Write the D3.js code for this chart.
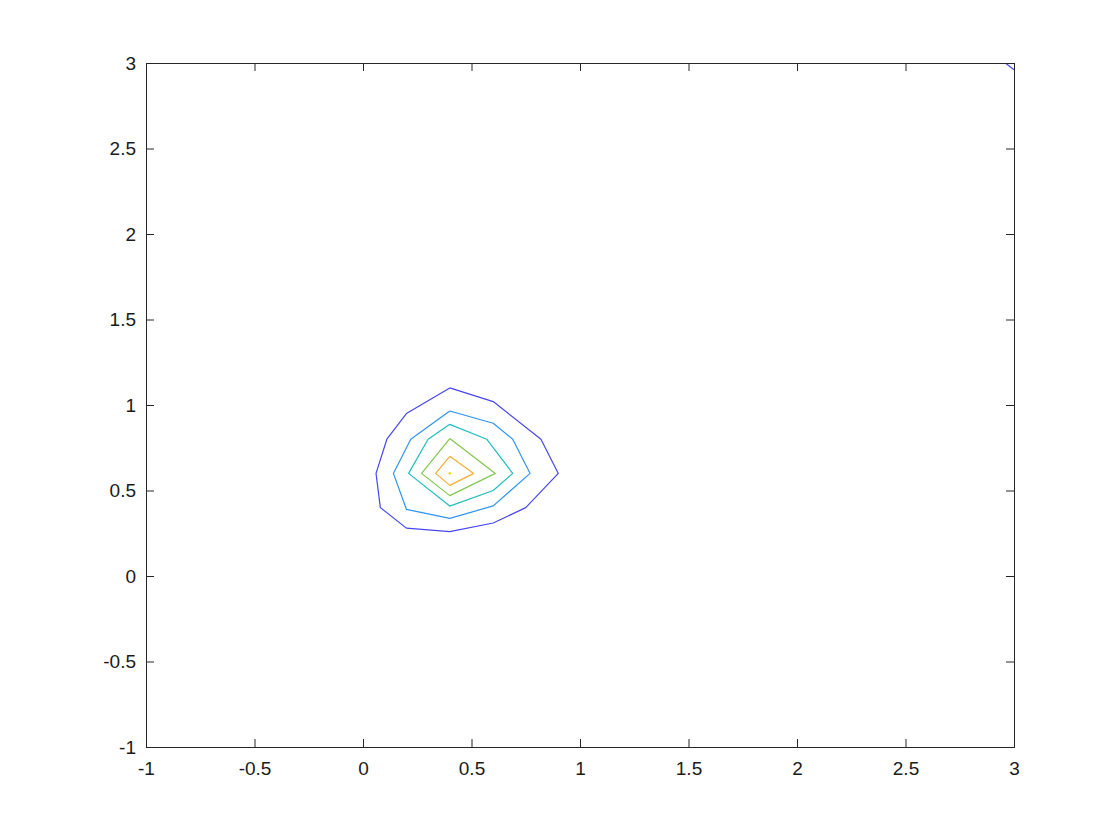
<!DOCTYPE html>
<html>
<head>
<meta charset="utf-8">
<script src="https://cdn.jsdelivr.net/npm/d3@7"></script>
<style>
  body { margin: 0; background: #fff; }
</style>
</head>
<body>
<svg id="chart" width="1120" height="840"></svg>
<script>
// contour levels, outermost first, vertices as [x, y]
const levelColors = ['#4646f2', '#2f94ee', '#1fbdbf', '#82c64e', '#f7ae32', '#f2de1c'];

const contour1 = [[0.4, 1.1], [0.6, 1.02], [0.82, 0.8], [0.9, 0.6], [0.75, 0.4], [0.6, 0.31],
  [0.4, 0.26], [0.2, 0.28], [0.08, 0.4], [0.06, 0.6], [0.11, 0.8], [0.2, 0.95], [0.4, 1.1]];
const contour2 = [[0.4, 0.965], [0.6, 0.893], [0.69, 0.8], [0.77, 0.6], [0.6, 0.41],
  [0.4, 0.337], [0.2, 0.39], [0.14, 0.6], [0.22, 0.8], [0.4, 0.965]];
const contour3 = [[0.4, 0.887], [0.57, 0.8], [0.69, 0.6], [0.6, 0.5], [0.4, 0.409],
  [0.21, 0.6], [0.3, 0.8], [0.4, 0.887]];
const contour4 = [[0.4, 0.804], [0.61, 0.6], [0.4, 0.47], [0.27, 0.6], [0.4, 0.804]];
const contour5 = [[0.4, 0.70], [0.51, 0.6], [0.4, 0.53], [0.335, 0.6], [0.4, 0.70]];
const contour6 = [[0.4, 0.605], [0.405, 0.6], [0.4, 0.595], [0.395, 0.6], [0.4, 0.605]];
// piece of the outer level clipped at the top right corner
const contour1b = [[2.96, 3], [3, 2.96]];

const contours = [contour1, contour2, contour3, contour4, contour5, contour6];

const xTicks = [-1, -0.5, 0, 0.5, 1, 1.5, 2, 2.5, 3];
const yTicks = [-1, -0.5, 0, 0.5, 1, 1.5, 2, 2.5, 3];

const svg = d3.select('#chart');
const margin = {top: 63, right: 106, bottom: 93, left: 146};
const width = +svg.attr('width') - margin.left - margin.right;
const height = +svg.attr('height') - margin.top - margin.bottom;

const x = d3.scaleLinear().domain([-1, 3]).range([0, width]);
const y = d3.scaleLinear().domain([-1, 3]).range([height, 0]);

const g = svg.append('g').attr('transform', 'translate(' + margin.left + ',' + margin.top + ')');

const line = d3.line().x(d => x(d[0])).y(d => y(d[1]));

g.append('defs').append('clipPath').attr('id', 'clip')
  .append('rect').attr('width', width).attr('height', height);

const plot = g.append('g').attr('clip-path', 'url(#clip)');

plot.selectAll('.level')
  .data(contours)
  .enter().append('path')
  .attr('class', 'level')
  .attr('d', line)
  .attr('fill', 'none')
  .attr('stroke', (d, i) => levelColors[i])
  .attr('stroke-width', 1.2)
  .attr('stroke-linejoin', 'round');

plot.append('path')
  .attr('d', line(contour1b))
  .attr('fill', 'none')
  .attr('stroke', levelColors[0])
  .attr('stroke-width', 1.2);

// axes, ticks pointing inward, box on
const tickLen = 8;
const fmt = d => String(d);

const xAxis = g.append('g')
  .attr('transform', 'translate(0,' + height + ')')
  .call(d3.axisBottom(x).tickValues(xTicks).tickSize(-tickLen).tickPadding(15).tickFormat(fmt));
const yAxis = g.append('g')
  .call(d3.axisLeft(y).tickValues(yTicks).tickSize(-tickLen).tickPadding(10).tickFormat(fmt));
const xTop = g.append('g')
  .call(d3.axisTop(x).tickValues(xTicks).tickSize(-tickLen).tickFormat(''));
const yRight = g.append('g')
  .attr('transform', 'translate(' + width + ',0)')
  .call(d3.axisRight(y).tickValues(yTicks).tickSize(-tickLen).tickFormat(''));

[xAxis, yAxis, xTop, yRight].forEach(a => {
  a.select('.domain').attr('stroke', '#262626').attr('stroke-width', 1);
  a.selectAll('.tick line').attr('stroke', '#262626').attr('stroke-width', 1);
  a.selectAll('.tick text')
    .attr('fill', '#1a1a1a')
    .style('font-family', 'Liberation Sans, Arial, Helvetica, sans-serif')
    .style('font-size', '19px');
});
</script>
</body>
</html>
